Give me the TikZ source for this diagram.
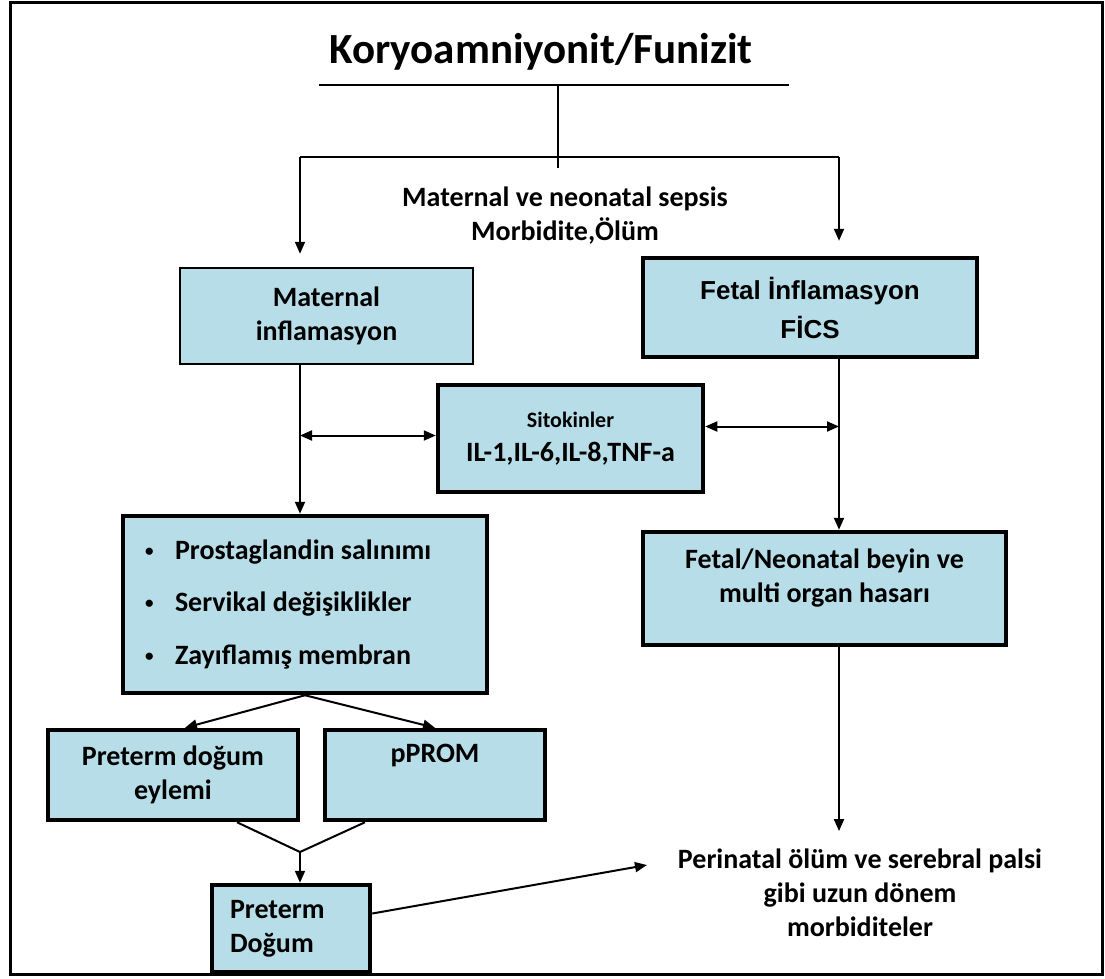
\documentclass[tikz,border=0pt]{standalone}
\usepackage{fontspec}
\setmainfont{Carlito}
\newfontfamily\arialfam{Liberation Sans}
\usepackage{tikz}
\usetikzlibrary{arrows.meta}
\usetikzlibrary{calc}

\definecolor{boxblue}{RGB}{183,222,232}
\newcommand{\bodyfont}{\fontsize{28}{34}\selectfont\bfseries}
\newcommand{\bull}{\makebox[32pt][l]{\hspace{2pt}\fontsize{17}{17}\selectfont\raisebox{3pt}{\textbullet}}}

\tikzset{
	box/.style={draw, line width=4.5pt, fill=boxblue, align=center, font=\bodyfont, inner sep=0pt},
	thinbox/.style={box, line width=2.5pt},
	txt/.style={align=center, font=\bodyfont}
}

\begin{document}
\begin{tikzpicture}[x=1pt, y=-1pt, line width=2pt, >={Triangle[length=12pt,width=10pt]}]
\useasboundingbox (0,0) rectangle (1105,978);
\draw[line width=3pt] (10,2) rectangle (1102,974);

% top
\node[txt, font=\fontsize{43}{50}\selectfont\bfseries, anchor=base] (title) at (541,63) {Koryoamniyonit/Funizit};
\node[txt] (sepsis) at (565,216) {Maternal ve neonatal sepsis\\Morbidite,Ölüm};
\coordinate (ul) at (319,85);
\coordinate (ur) at (789,85);
\coordinate (stem) at (558,85);
\coordinate (jm) at (558,168);
\coordinate (jl) at (300,157);
\coordinate (jr) at (839,157);
\coordinate (mg) at (300,852);

% boxes
\node[thinbox, minimum width=293pt, minimum height=96pt] (mi) at (326.5,316) {Maternal\\inflamasyon};
\node[box, minimum width=334pt, minimum height=99pt, font=\fontsize{26}{39}\selectfont\arialfam\bfseries] (fi) at (810,307.5) {Fetal İnflamasyon\\FİCS};
\node[box, minimum width=265pt, minimum height=107pt] (sit) at (570.5,438.5) {{\fontsize{22}{28}\selectfont Sitokinler}\\IL-1,IL-6,IL-8,TNF-a};
\node[box, text width=324pt, inner xsep=20pt, minimum height=177pt, align=flush left, font=\fontsize{28}{52.5}\selectfont\bfseries] (pg) at (305,604.5) {\bull Prostaglandin salınımı\\\bull Servikal değişiklikler\\\bull Zayıflamış membran};
\node[box, minimum width=250pt, minimum height=90pt] (pd) at (173,775) {Preterm doğum\\eylemi};
\node[box, minimum width=220pt, minimum height=90pt] (pp) at (435,775) {pPROM\\\strut};
\node[box, text width=122pt, inner xsep=18pt, minimum height=87pt, align=flush left] (pt) at (291,928.5) {Preterm\\Doğum};
\node[box, minimum width=363pt, minimum height=113pt] (fn) at (824.5,588.5) {Fetal/Neonatal beyin ve\\multi organ hasarı\\[-8pt]\mbox{}};
\node[txt, inner xsep=30pt, inner ysep=17pt] (pn) at (860,893) {Perinatal ölüm ve serebral palsi\\gibi uzun dönem\\morbiditeler};

% lines
\draw[line width=2.5pt] (ul) -- (ur);
\draw (stem) -- (jm);
\draw (jl) -- (jr);
\draw ([xshift=64pt]pd.south) -- (mg) -- ([xshift=-70pt]pp.south);

\path[->]
(jl) edge[shorten >=13pt] (mi.north -| jl)
(jr) edge[shorten >=15pt] (fi.north -| jr)
(mi.south -| jl) edge (pg.north -| jl)
(fi.south -| jr) edge (fn.north -| jr)
(fn.south -| jr) edge (pn.north -| jr)
(pg.south) edge ([xshift=12pt]pd.north)
(pg.south) edge (pp.north)
(mg) edge (pt.north -| mg)
([yshift=15pt]pt.east) edge ([yshift=28pt]pn.west)
;
\path[<->]
($(sit.west -| jl)+(0,-3)$) edge ($(sit.west)+(0,-3)$)
($(sit.east)+(0,-12)$) edge ($(sit.east -| jr)+(0,-12)$)
;
\end{tikzpicture}
\end{document}
